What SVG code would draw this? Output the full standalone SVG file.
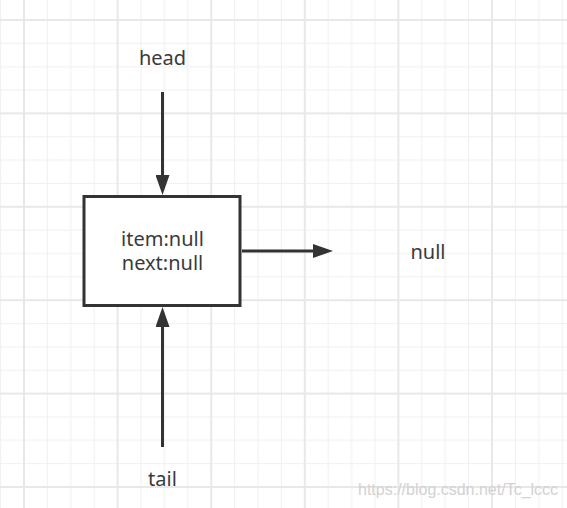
<svg xmlns="http://www.w3.org/2000/svg" width="567" height="508" viewBox="0 0 567 508">
  <style>
    .lbl { font-family: "Noto Sans", "Open Sans", sans-serif; font-size: 20px; fill: #3a3a3a; text-anchor: middle; }
    .conn { stroke: #333; stroke-width: 3; fill: none; }
    .minor { stroke: #f0f0f0; stroke-width: 1; }
    .major { stroke: #e8e8e8; stroke-width: 2; }
    .wm { font-family: "Liberation Sans", Arial, sans-serif; font-size: 16px; fill: #d2d2d2; }
  </style>
  <defs>
    <pattern id="grid" patternUnits="userSpaceOnUse" x="23" y="19" width="93.6" height="93.4">
      <line class="minor" x1="24.4" y1="0" x2="24.4" y2="93.4"/>
      <line class="minor" x1="47.8" y1="0" x2="47.8" y2="93.4"/>
      <line class="minor" x1="71.2" y1="0" x2="71.2" y2="93.4"/>
      <line class="minor" x1="0" y1="24.35" x2="93.6" y2="24.35"/>
      <line class="minor" x1="0" y1="47.7" x2="93.6" y2="47.7"/>
      <line class="minor" x1="0" y1="71.05" x2="93.6" y2="71.05"/>
      <line class="major" x1="1" y1="0" x2="1" y2="93.4"/>
      <line class="major" x1="0" y1="1" x2="93.6" y2="1"/>
    </pattern>
    <marker id="arrow" markerUnits="userSpaceOnUse" markerWidth="20" markerHeight="14" refX="2" refY="7" orient="auto" viewBox="0 0 20 14">
      <path d="M0,0 L20,7 L0,14 z" fill="#333"/>
    </marker>
  </defs>
  <rect x="0" y="0" width="567" height="508" fill="#ffffff"/>
  <rect x="0" y="0" width="567" height="508" fill="url(#grid)"/>

  <g id="connectors">
    <line class="conn" x1="162.5" y1="92" x2="162.5" y2="177" marker-end="url(#arrow)"/>
    <line class="conn" x1="162.5" y1="447" x2="162.5" y2="325" marker-end="url(#arrow)"/>
    <line class="conn" x1="242" y1="251" x2="315" y2="251" marker-end="url(#arrow)"/>
  </g>

  <g id="node-box">
    <rect x="84" y="196.5" width="156" height="109" fill="#ffffff" stroke="#333" stroke-width="3"/>
    <text class="lbl" x="162.5" y="246">item:null</text>
    <text class="lbl" x="162.5" y="270">next:null</text>
  </g>

  <g id="label-head">
    <text class="lbl" x="162.5" y="65">head</text>
  </g>
  <g id="label-tail">
    <text class="lbl" x="162.5" y="486">tail</text>
  </g>
  <g id="label-null">
    <text class="lbl" x="428" y="259">null</text>
  </g>

  <text class="wm" x="358" y="495">https://blog.csdn.net/Tc_lccc</text>
</svg>
